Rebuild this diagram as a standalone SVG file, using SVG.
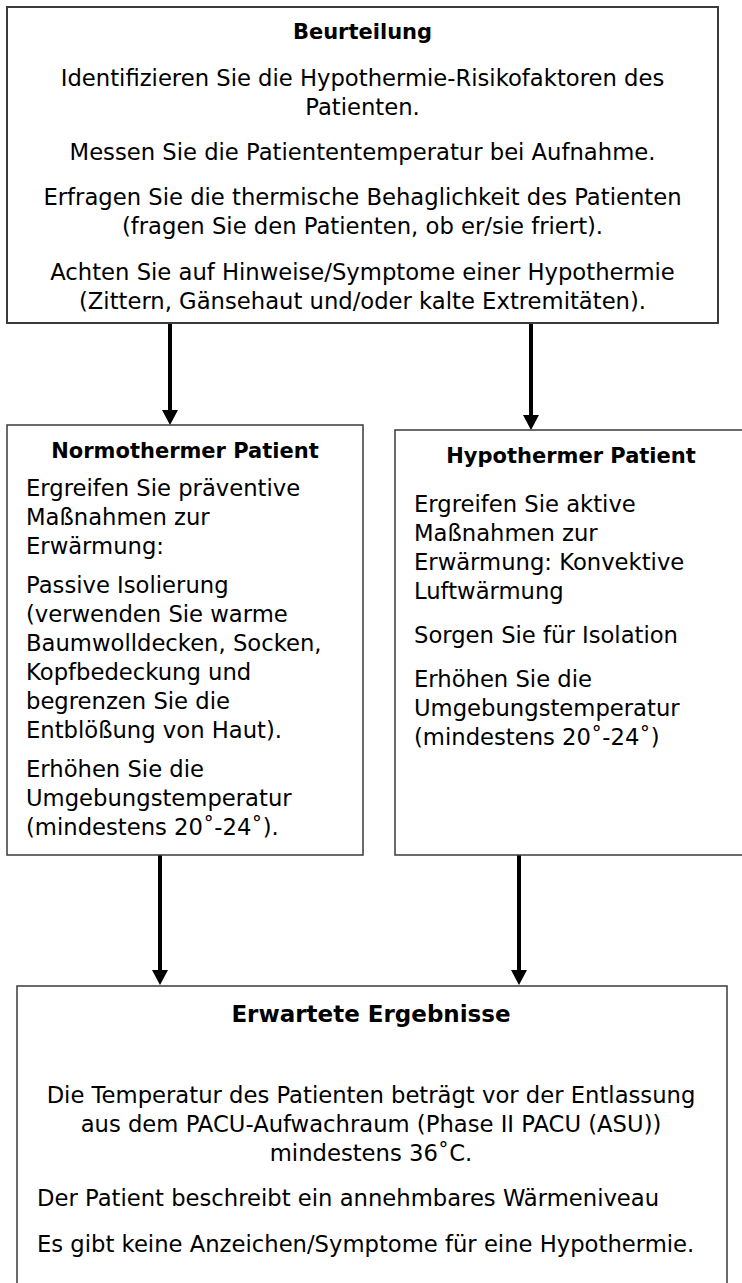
<svg xmlns="http://www.w3.org/2000/svg" width="742" height="1283" viewBox="0 0 742 1283">
<style>
  .box { fill: #ffffff; stroke: #3a3a3a; stroke-width: 1.5; }
  .box2 { fill: #ffffff; stroke: #3a3a3a; stroke-width: 2; }
  .t { font-family: "DejaVu Sans", Verdana, sans-serif; font-size: 22.7px; fill: #000; }
  .h { font-family: "DejaVu Sans", Verdana, sans-serif; font-size: 21px; font-weight: bold; fill: #000; }
  .hl { font-family: "DejaVu Sans", Verdana, sans-serif; font-size: 23px; font-weight: bold; fill: #000; }
  .c { text-anchor: middle; }
  .conn { stroke: #000; stroke-width: 4; fill: none; marker-end: url(#arr); }
</style>
<defs>
  <marker id="arr" markerUnits="userSpaceOnUse" viewBox="0 0 15 16" markerWidth="15" markerHeight="16" refX="0" refY="8" orient="auto">
    <path d="M0,0 L15,8 L0,16 z" fill="#000"/>
  </marker>
</defs>
<rect width="742" height="1283" fill="#ffffff"/>

<g id="connectors">
  <line class="conn" x1="170" y1="324" x2="170" y2="410"/>
  <line class="conn" x1="531" y1="324" x2="531" y2="415"/>
  <line class="conn" x1="160" y1="855" x2="160" y2="970"/>
  <line class="conn" x1="519" y1="855" x2="519" y2="970"/>
</g>

<g id="beurteilung">
  <rect class="box2" x="7" y="7" width="711" height="316"/>
  <text class="h c" x="362.5" y="39">Beurteilung</text>
  <text class="t c" x="362.5" y="86">Identifizieren Sie die Hypothermie-Risikofaktoren des</text>
  <text class="t c" x="362.5" y="115">Patienten.</text>
  <text class="t c" x="362.5" y="160">Messen Sie die Patiententemperatur bei Aufnahme.</text>
  <text class="t c" x="362.5" y="205">Erfragen Sie die thermische Behaglichkeit des Patienten</text>
  <text class="t c" x="362.5" y="234">(fragen Sie den Patienten, ob er/sie friert).</text>
  <text class="t c" x="362.5" y="280">Achten Sie auf Hinweise/Symptome einer Hypothermie</text>
  <text class="t c" x="362.5" y="309">(Zittern, Gänsehaut und/oder kalte Extremitäten).</text>
</g>

<g id="normotherm">
  <rect class="box" x="7" y="425" width="356" height="430"/>
  <text class="h c" x="185" y="458">Normothermer Patient</text>
  <text class="t" x="26" y="496">Ergreifen Sie präventive</text>
  <text class="t" x="26" y="525">Maßnahmen zur</text>
  <text class="t" x="26" y="554">Erwärmung:</text>
  <text class="t" x="26" y="593">Passive Isolierung</text>
  <text class="t" x="26" y="622">(verwenden Sie warme</text>
  <text class="t" x="26" y="651">Baumwolldecken, Socken,</text>
  <text class="t" x="26" y="680">Kopfbedeckung und</text>
  <text class="t" x="26" y="709">begrenzen Sie die</text>
  <text class="t" x="26" y="738">Entblößung von Haut).</text>
  <text class="t" x="26" y="777">Erhöhen Sie die</text>
  <text class="t" x="26" y="806">Umgebungstemperatur</text>
  <text class="t" x="26" y="835">(mindestens 20˚-24˚).</text>
</g>

<g id="hypotherm">
  <rect class="box" x="395" y="430" width="360" height="425"/>
  <text class="h c" x="571" y="463">Hypothermer Patient</text>
  <text class="t" x="414" y="512">Ergreifen Sie aktive</text>
  <text class="t" x="414" y="541">Maßnahmen zur</text>
  <text class="t" x="414" y="570">Erwärmung: Konvektive</text>
  <text class="t" x="414" y="599">Luftwärmung</text>
  <text class="t" x="414" y="643">Sorgen Sie für Isolation</text>
  <text class="t" x="414" y="687">Erhöhen Sie die</text>
  <text class="t" x="414" y="716">Umgebungstemperatur</text>
  <text class="t" x="414" y="745">(mindestens 20˚-24˚)</text>
</g>

<g id="ergebnisse">
  <rect class="box" x="17" y="986" width="710" height="330"/>
  <text class="hl c" x="371" y="1022">Erwartete Ergebnisse</text>
  <text class="t c" x="371" y="1103">Die Temperatur des Patienten beträgt vor der Entlassung</text>
  <text class="t c" x="371" y="1132">aus dem PACU-Aufwachraum (Phase II PACU (ASU))</text>
  <text class="t c" x="371" y="1161">mindestens 36˚C.</text>
  <text class="t" x="37" y="1206">Der Patient beschreibt ein annehmbares Wärmeniveau</text>
  <text class="t" x="37" y="1252">Es gibt keine Anzeichen/Symptome für eine Hypothermie.</text>
</g>
</svg>
